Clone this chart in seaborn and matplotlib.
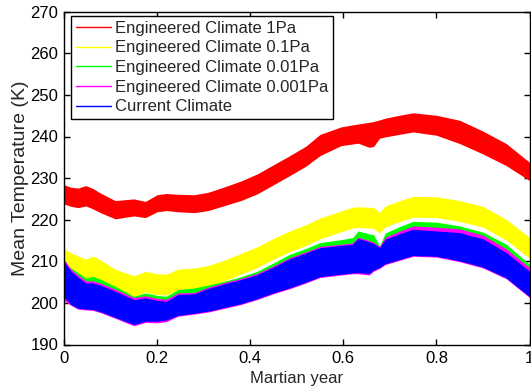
import matplotlib
matplotlib.use("Agg")

import matplotlib.pyplot as plt
import pandas as pd
import seaborn as sns


# fraction of the Martian year
X = [0.0, 0.015, 0.03, 0.047, 0.062, 0.08, 0.11, 0.15, 0.175, 0.2, 0.22, 0.245,
     0.28, 0.31, 0.345, 0.38, 0.415, 0.45, 0.485, 0.52, 0.55, 0.595, 0.62, 0.632,
     0.655, 0.665, 0.678, 0.69, 0.72, 0.75, 0.8, 0.85, 0.9, 0.95, 1.0]

# upper / lower envelope of each (diurnally oscillating) temperature band, K
RED_HI = [228.4, 227.8, 227.6, 228.2, 227.5, 226.3, 224.6, 225.0, 224.4, 226.0, 226.3, 226.1,
          226.0, 226.6, 227.9, 229.3, 231.0, 233.2, 235.4, 237.7, 240.5, 242.3, 242.8, 243.0,
          243.4, 243.6, 244.0, 244.4, 245.1, 245.7, 245.1, 243.9, 241.3, 238.3, 233.8]
RED_LO = [223.8, 223.2, 222.9, 223.3, 222.6, 221.6, 220.2, 220.9, 220.5, 221.9, 222.2, 221.9,
          221.7, 222.2, 223.4, 224.6, 226.2, 228.4, 230.6, 232.9, 235.4, 237.8, 238.2, 238.4,
          237.4, 237.6, 239.6, 239.9, 240.5, 241.1, 240.3, 238.3, 235.8, 233.0, 229.4]

YELLOW_HI = [213.0, 212.0, 211.3, 210.5, 211.3, 210.2, 208.1, 206.5, 207.6, 207.0, 206.9, 208.1,
             208.4, 209.0, 210.3, 211.9, 213.5, 215.5, 217.3, 218.8, 220.4, 222.1, 223.0, 223.1,
             223.0, 222.9, 221.8, 223.3, 224.5, 225.6, 225.5, 224.6, 223.2, 220.1, 215.7]
YELLOW_LO = [208.0, 207.0, 206.3, 205.5, 206.3, 205.2, 203.1, 201.5, 202.6, 202.0, 201.9, 203.1,
             203.4, 204.0, 205.3, 206.9, 208.5, 210.5, 212.3, 213.8, 215.4, 217.1, 218.0, 218.1,
             218.0, 217.9, 216.8, 218.3, 219.5, 220.6, 220.5, 219.6, 218.2, 215.1, 210.7]

GREEN_HI = [209.5, 208.4, 207.3, 206.0, 206.4, 205.6, 204.0, 201.6, 202.4, 201.8, 201.6, 203.2,
            203.6, 204.3, 205.2, 206.3, 207.6, 209.6, 211.7, 213.1, 214.5, 215.2, 215.7, 217.3,
            216.6, 216.4, 213.7, 216.8, 218.3, 219.6, 219.4, 218.5, 217.0, 214.1, 209.3]
GREEN_LO = [208.0, 205.6, 204.2, 202.8, 202.8, 202.2, 200.8, 198.8, 199.2, 198.6, 198.4, 200.0,
            200.2, 201.5, 202.6, 203.6, 204.8, 206.6, 208.6, 210.0, 211.3, 211.8, 212.1, 213.5,
            212.7, 212.3, 211.3, 213.3, 214.6, 215.7, 215.3, 214.9, 213.4, 210.1, 205.6]

MAGENTA_HI = [210.5, 208.1, 206.7, 205.3, 205.3, 204.7, 203.3, 201.3, 201.7, 201.1, 200.9, 202.4,
              202.5, 203.8, 204.9, 205.9, 207.1, 208.9, 210.9, 212.3, 213.6, 214.1, 214.4, 215.8,
              215.0, 214.6, 213.6, 215.8, 217.2, 218.5, 218.2, 217.8, 216.3, 213.0, 208.5]
MAGENTA_LO = [200.6, 199.4, 198.5, 198.3, 198.2, 197.6, 196.3, 194.5, 195.3, 195.2, 195.5, 196.8,
              197.3, 197.8, 198.7, 199.6, 200.8, 202.2, 203.4, 204.8, 206.1, 206.7, 207.0, 207.0,
              206.7, 207.6, 208.3, 209.2, 210.2, 211.2, 211.0, 209.9, 208.4, 205.8, 201.3]

BLUE_HI = [210.0, 207.6, 206.2, 204.8, 204.8, 204.2, 202.8, 200.8, 201.2, 200.6, 200.4, 202.0,
           202.2, 203.5, 204.6, 205.6, 206.8, 208.6, 210.6, 212.0, 213.3, 213.8, 214.1, 215.5,
           214.7, 214.3, 213.3, 215.3, 216.6, 217.7, 217.3, 216.9, 215.4, 212.1, 207.6]
BLUE_LO = [201.4, 199.6, 198.7, 198.5, 198.4, 197.8, 196.5, 194.8, 195.6, 195.6, 195.9, 197.0,
           197.5, 198.0, 198.9, 199.8, 201.0, 202.4, 203.6, 205.0, 206.3, 206.9, 207.2, 207.3,
           207.0, 207.9, 208.5, 209.4, 210.4, 211.4, 211.2, 210.1, 208.6, 206.0, 201.5]

SERIES = [
    "Engineered Climate 1Pa",
    "Engineered Climate 0.1Pa",
    "Engineered Climate 0.01Pa",
    "Engineered Climate 0.001Pa",
    "Current Climate",
]
COLORS = ["#ff0000", "#ffff00", "#00ff00", "#ff00ff", "#0000ff"]

X_TICKS = [0, 0.2, 0.4, 0.6, 0.8, 1.0]
X_TICKLABELS = ["0", "0.2", "0.4", "0.6", "0.8", "1"]
Y_TICKS = [190, 200, 210, 220, 230, 240, 250, 260, 270]


def build_frame():
    bands = [
        (RED_LO, RED_HI),
        (YELLOW_LO, YELLOW_HI),
        (GREEN_LO, GREEN_HI),
        (MAGENTA_LO, MAGENTA_HI),
        (BLUE_LO, BLUE_HI),
    ]
    rows = []
    for name, (lo, hi) in zip(SERIES, bands):
        for x, t_lo, t_hi in zip(X, lo, hi):
            rows.append({"year": x, "temp": t_lo, "series": name})
            rows.append({"year": x, "temp": t_hi, "series": name})
    return pd.DataFrame(rows)


def main():
    sns.set_style("ticks")
    plt.rcParams["font.family"] = ["Liberation Sans", "DejaVu Sans"]
    plt.rcParams["font.size"] = 12

    df = build_frame()

    fig = plt.figure(figsize=(5.31, 3.9), dpi=100)
    ax = fig.add_axes([64 / 531, 45.5 / 390, 465.5 / 531, 332.8 / 390])

    # min-max interval per x gives the filled band of each run
    sns.lineplot(
        data=df,
        x="year",
        y="temp",
        hue="series",
        hue_order=SERIES,
        palette=dict(zip(SERIES, COLORS)),
        errorbar=("pi", 100),
        err_kws={"alpha": 1, "linewidth": 0},
        linewidth=0,
        ax=ax,
    )

    ax.set_xlim(0, 1)
    ax.set_ylim(190, 270)
    ax.set_xticks(X_TICKS)
    ax.set_xticklabels(X_TICKLABELS)
    ax.set_yticks(Y_TICKS)
    ax.set_xlabel("Martian year", fontsize=12, labelpad=3)
    ax.set_ylabel("Mean Temperature (K)", fontsize=14, labelpad=1)
    ax.tick_params(direction="in", top=True, right=True, length=4, width=1,
                   labelsize=12, colors="black")
    ax.tick_params(axis="x", pad=5)
    ax.tick_params(axis="y", pad=4)
    for spine in ax.spines.values():
        spine.set_visible(True)
        spine.set_color("black")
        spine.set_linewidth(1.0)

    handles, labels = ax.get_legend_handles_labels()
    leg = ax.legend(
        handles,
        labels,
        loc="upper left",
        bbox_to_anchor=(0.0144, 0.988),
        borderaxespad=0,
        fontsize=12,
        frameon=True,
        fancybox=False,
        edgecolor="black",
        framealpha=1,
        handlelength=2.1,
        handletextpad=0.25,
        labelspacing=0.28,
        borderpad=0.3,
    )
    leg.get_frame().set_linewidth(1.0)
    for line in leg.get_lines():
        line.set_linewidth(1.0)

    fig.savefig("out.png", dpi=100)
    plt.close(fig)


if __name__ == "__main__":
    main()
